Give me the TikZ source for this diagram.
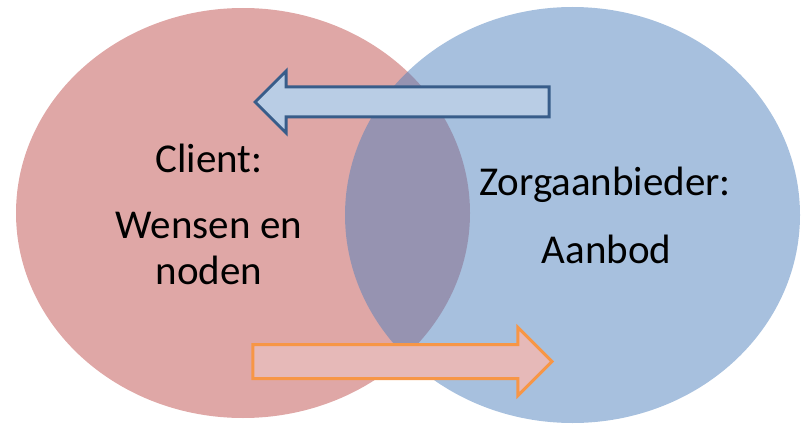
\documentclass[tikz,border=0pt]{standalone}
\usepackage{fontspec}
\setmainfont{Carlito}
\usetikzlibrary{shapes.arrows}
\definecolor{clientred}{HTML}{C0504D}
\definecolor{zorgblue}{HTML}{4F81BD}
\definecolor{offerfill}{HTML}{B9CDE5}
\definecolor{offerline}{HTML}{385D8A}
\definecolor{needfill}{HTML}{E6B9B8}
\definecolor{needline}{HTML}{F79646}
\def\labelsize{\fontsize{41}{46}\selectfont}

\begin{document}
\begin{tikzpicture}[x=1pt,y=-1pt]
    \tikzstyle{set}=[fill opacity=0.5]
    \tikzstyle{label text}=[anchor=base,inner sep=0pt,font=\labelsize]
    \tikzstyle{block arrow}=[single arrow,line width=3pt,minimum width=0pt,
        inner xsep=0pt,single arrow tip angle=90,anchor=tip]
    \tikzstyle{offer arrow}=[block arrow,draw=offerline,fill=offerfill,
        shape border rotate=180,inner ysep=13.5pt,single arrow head extend=16pt,
        minimum height=294pt]
    \tikzstyle{need arrow}=[block arrow,draw=needline,fill=needfill,
        inner ysep=15.5pt,single arrow head extend=17pt,minimum height=299pt]

    \useasboundingbox (0,0) rectangle (805,425);

    % Draw the two sets, the right one over the left one
    \fill[set,clientred] (243,213) ellipse [x radius=227pt,y radius=205pt];
    \fill[set,zorgblue] (572.5,215) ellipse [x radius=227.5pt,y radius=208pt];

    % Draw the arrows between both sides (placed by their tips)
    \node[offer arrow] (offer) at (253,102) {};
    \node[need arrow] (need) at (554,361.5) {};

    % Annotate the sets
    \node[label text] (client) at (209,172.7) {Client:};
    \node[label text] (wensen) at (209,238) {Wensen en};
    \node[label text] (noden) at (209,284) {noden};
    \node[label text] (zorg) at (605,195) {Zorgaanbieder:};
    \node[label text] (aanbod) at (606.5,263.3) {Aanbod};
\end{tikzpicture}
\end{document}
